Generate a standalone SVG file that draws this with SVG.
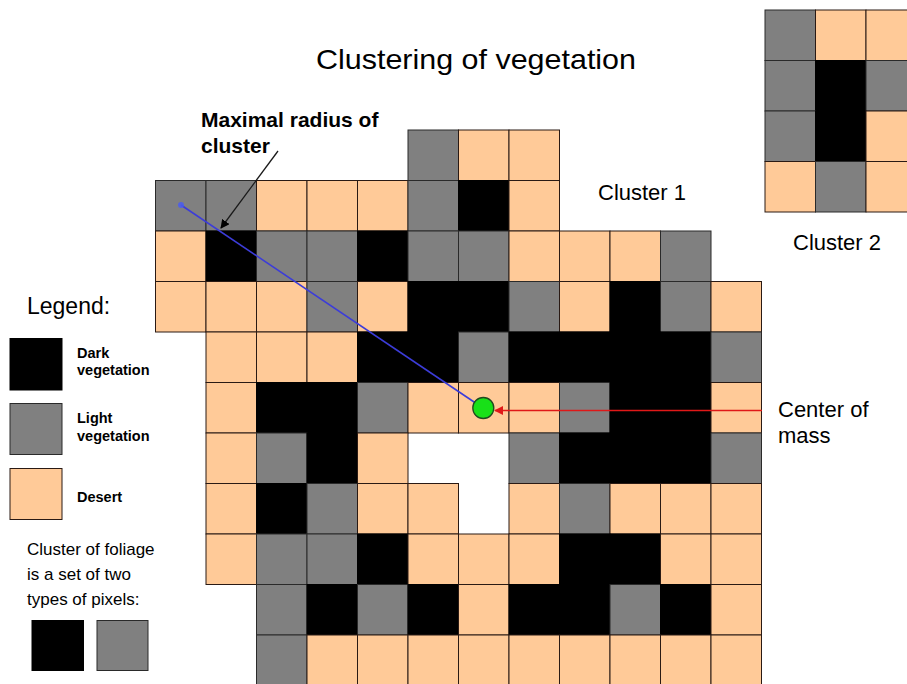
<svg xmlns="http://www.w3.org/2000/svg" width="907" height="684" viewBox="0 0 907 684">
  <style>
    .d { fill: #FFCA98; stroke: #2a1a14; stroke-width: 1; }
    .g { fill: #808080; stroke: #2a2a2a; stroke-width: 1; }
    .k { fill: #000000; stroke: #000000; stroke-width: 1; }
    .t { font-family: "Liberation Sans", Arial, sans-serif; fill: #000; }
    .b { font-family: "Liberation Sans", Arial, sans-serif; font-weight: bold; fill: #000; }
  </style>
  <defs>
    <marker id="arrBlack" viewBox="0 0 10 10" refX="9" refY="5" markerWidth="9" markerHeight="9" markerUnits="userSpaceOnUse" orient="auto">
      <path d="M0,0 L10,5 L0,10 z" fill="#000"/>
    </marker>
    <marker id="arrRed" viewBox="0 0 10 10" refX="9" refY="5" markerWidth="9" markerHeight="9" markerUnits="userSpaceOnUse" orient="auto">
      <path d="M0,0 L10,5 L0,10 z" fill="#e01818"/>
    </marker>
  </defs>

  <rect width="907" height="684" fill="#ffffff"/>

  <text class="t" x="476" y="69" font-size="28" text-anchor="middle" textLength="320" lengthAdjust="spacingAndGlyphs">Clustering of vegetation</text>

  <!-- Cluster 1: pixel grid, 50.5px cells -->
  <g id="cluster1">
    <!-- row 0 -->
    <rect class="g" x="408" y="130" width="50.5" height="50.5"/>
    <rect class="d" x="458.5" y="130" width="50.5" height="50.5"/>
    <rect class="d" x="509" y="130" width="50.5" height="50.5"/>
    <!-- row 1 -->
    <rect class="g" x="155.5" y="180.5" width="50.5" height="50.5"/>
    <rect class="g" x="206" y="180.5" width="50.5" height="50.5"/>
    <rect class="d" x="256.5" y="180.5" width="50.5" height="50.5"/>
    <rect class="d" x="307" y="180.5" width="50.5" height="50.5"/>
    <rect class="d" x="357.5" y="180.5" width="50.5" height="50.5"/>
    <rect class="g" x="408" y="180.5" width="50.5" height="50.5"/>
    <rect class="k" x="458.5" y="180.5" width="50.5" height="50.5"/>
    <rect class="d" x="509" y="180.5" width="50.5" height="50.5"/>
    <!-- row 2 -->
    <rect class="d" x="155.5" y="231" width="50.5" height="50.5"/>
    <rect class="k" x="206" y="231" width="50.5" height="50.5"/>
    <rect class="g" x="256.5" y="231" width="50.5" height="50.5"/>
    <rect class="g" x="307" y="231" width="50.5" height="50.5"/>
    <rect class="k" x="357.5" y="231" width="50.5" height="50.5"/>
    <rect class="g" x="408" y="231" width="50.5" height="50.5"/>
    <rect class="g" x="458.5" y="231" width="50.5" height="50.5"/>
    <rect class="d" x="509" y="231" width="50.5" height="50.5"/>
    <rect class="d" x="559.5" y="231" width="50.5" height="50.5"/>
    <rect class="d" x="610" y="231" width="50.5" height="50.5"/>
    <rect class="g" x="660.5" y="231" width="50.5" height="50.5"/>
    <!-- row 3 -->
    <rect class="d" x="155.5" y="281.5" width="50.5" height="50.5"/>
    <rect class="d" x="206" y="281.5" width="50.5" height="50.5"/>
    <rect class="d" x="256.5" y="281.5" width="50.5" height="50.5"/>
    <rect class="g" x="307" y="281.5" width="50.5" height="50.5"/>
    <rect class="d" x="357.5" y="281.5" width="50.5" height="50.5"/>
    <rect class="k" x="408" y="281.5" width="50.5" height="50.5"/>
    <rect class="k" x="458.5" y="281.5" width="50.5" height="50.5"/>
    <rect class="g" x="509" y="281.5" width="50.5" height="50.5"/>
    <rect class="d" x="559.5" y="281.5" width="50.5" height="50.5"/>
    <rect class="k" x="610" y="281.5" width="50.5" height="50.5"/>
    <rect class="g" x="660.5" y="281.5" width="50.5" height="50.5"/>
    <rect class="d" x="711" y="281.5" width="50.5" height="50.5"/>
    <!-- row 4 -->
    <rect class="d" x="206" y="332" width="50.5" height="50.5"/>
    <rect class="d" x="256.5" y="332" width="50.5" height="50.5"/>
    <rect class="d" x="307" y="332" width="50.5" height="50.5"/>
    <rect class="k" x="357.5" y="332" width="50.5" height="50.5"/>
    <rect class="k" x="408" y="332" width="50.5" height="50.5"/>
    <rect class="g" x="458.5" y="332" width="50.5" height="50.5"/>
    <rect class="k" x="509" y="332" width="50.5" height="50.5"/>
    <rect class="k" x="559.5" y="332" width="50.5" height="50.5"/>
    <rect class="k" x="610" y="332" width="50.5" height="50.5"/>
    <rect class="k" x="660.5" y="332" width="50.5" height="50.5"/>
    <rect class="g" x="711" y="332" width="50.5" height="50.5"/>
    <!-- row 5 -->
    <rect class="d" x="206" y="382.5" width="50.5" height="50.5"/>
    <rect class="k" x="256.5" y="382.5" width="50.5" height="50.5"/>
    <rect class="k" x="307" y="382.5" width="50.5" height="50.5"/>
    <rect class="g" x="357.5" y="382.5" width="50.5" height="50.5"/>
    <rect class="d" x="408" y="382.5" width="50.5" height="50.5"/>
    <rect class="d" x="458.5" y="382.5" width="50.5" height="50.5"/>
    <rect class="d" x="509" y="382.5" width="50.5" height="50.5"/>
    <rect class="g" x="559.5" y="382.5" width="50.5" height="50.5"/>
    <rect class="k" x="610" y="382.5" width="50.5" height="50.5"/>
    <rect class="k" x="660.5" y="382.5" width="50.5" height="50.5"/>
    <rect class="d" x="711" y="382.5" width="50.5" height="50.5"/>
    <!-- row 6 -->
    <rect class="d" x="206" y="433" width="50.5" height="50.5"/>
    <rect class="g" x="256.5" y="433" width="50.5" height="50.5"/>
    <rect class="k" x="307" y="433" width="50.5" height="50.5"/>
    <rect class="d" x="357.5" y="433" width="50.5" height="50.5"/>
    <rect class="g" x="509" y="433" width="50.5" height="50.5"/>
    <rect class="k" x="559.5" y="433" width="50.5" height="50.5"/>
    <rect class="k" x="610" y="433" width="50.5" height="50.5"/>
    <rect class="k" x="660.5" y="433" width="50.5" height="50.5"/>
    <rect class="g" x="711" y="433" width="50.5" height="50.5"/>
    <!-- row 7 -->
    <rect class="d" x="206" y="483.5" width="50.5" height="50.5"/>
    <rect class="k" x="256.5" y="483.5" width="50.5" height="50.5"/>
    <rect class="g" x="307" y="483.5" width="50.5" height="50.5"/>
    <rect class="d" x="357.5" y="483.5" width="50.5" height="50.5"/>
    <rect class="d" x="408" y="483.5" width="50.5" height="50.5"/>
    <rect class="d" x="509" y="483.5" width="50.5" height="50.5"/>
    <rect class="g" x="559.5" y="483.5" width="50.5" height="50.5"/>
    <rect class="d" x="610" y="483.5" width="50.5" height="50.5"/>
    <rect class="d" x="660.5" y="483.5" width="50.5" height="50.5"/>
    <rect class="d" x="711" y="483.5" width="50.5" height="50.5"/>
    <!-- row 8 -->
    <rect class="d" x="206" y="534" width="50.5" height="50.5"/>
    <rect class="g" x="256.5" y="534" width="50.5" height="50.5"/>
    <rect class="g" x="307" y="534" width="50.5" height="50.5"/>
    <rect class="k" x="357.5" y="534" width="50.5" height="50.5"/>
    <rect class="d" x="408" y="534" width="50.5" height="50.5"/>
    <rect class="d" x="458.5" y="534" width="50.5" height="50.5"/>
    <rect class="d" x="509" y="534" width="50.5" height="50.5"/>
    <rect class="k" x="559.5" y="534" width="50.5" height="50.5"/>
    <rect class="k" x="610" y="534" width="50.5" height="50.5"/>
    <rect class="d" x="660.5" y="534" width="50.5" height="50.5"/>
    <rect class="d" x="711" y="534" width="50.5" height="50.5"/>
    <!-- row 9 -->
    <rect class="g" x="256.5" y="584.5" width="50.5" height="50.5"/>
    <rect class="k" x="307" y="584.5" width="50.5" height="50.5"/>
    <rect class="g" x="357.5" y="584.5" width="50.5" height="50.5"/>
    <rect class="k" x="408" y="584.5" width="50.5" height="50.5"/>
    <rect class="d" x="458.5" y="584.5" width="50.5" height="50.5"/>
    <rect class="k" x="509" y="584.5" width="50.5" height="50.5"/>
    <rect class="k" x="559.5" y="584.5" width="50.5" height="50.5"/>
    <rect class="g" x="610" y="584.5" width="50.5" height="50.5"/>
    <rect class="k" x="660.5" y="584.5" width="50.5" height="50.5"/>
    <rect class="d" x="711" y="584.5" width="50.5" height="50.5"/>
    <!-- row 10 -->
    <rect class="g" x="256.5" y="635" width="50.5" height="50.5"/>
    <rect class="d" x="307" y="635" width="50.5" height="50.5"/>
    <rect class="d" x="357.5" y="635" width="50.5" height="50.5"/>
    <rect class="d" x="408" y="635" width="50.5" height="50.5"/>
    <rect class="d" x="458.5" y="635" width="50.5" height="50.5"/>
    <rect class="d" x="509" y="635" width="50.5" height="50.5"/>
    <rect class="d" x="559.5" y="635" width="50.5" height="50.5"/>
    <rect class="d" x="610" y="635" width="50.5" height="50.5"/>
    <rect class="d" x="660.5" y="635" width="50.5" height="50.5"/>
    <rect class="d" x="711" y="635" width="50.5" height="50.5"/>
  </g>
  <text id="label-cluster1" class="t" x="598" y="200" font-size="22">Cluster 1</text>

  <!-- Cluster 2 -->
  <g id="cluster2">
    <rect class="g" x="765" y="10" width="50.5" height="50.5"/>
    <rect class="d" x="815.5" y="10" width="50.5" height="50.5"/>
    <rect class="d" x="866" y="10" width="50.5" height="50.5"/>
    <rect class="g" x="765" y="60.5" width="50.5" height="50.5"/>
    <rect class="k" x="815.5" y="60.5" width="50.5" height="50.5"/>
    <rect class="g" x="866" y="60.5" width="50.5" height="50.5"/>
    <rect class="g" x="765" y="111" width="50.5" height="50.5"/>
    <rect class="k" x="815.5" y="111" width="50.5" height="50.5"/>
    <rect class="d" x="866" y="111" width="50.5" height="50.5"/>
    <rect class="d" x="765" y="161.5" width="50.5" height="50.5"/>
    <rect class="g" x="815.5" y="161.5" width="50.5" height="50.5"/>
    <rect class="d" x="866" y="161.5" width="50.5" height="50.5"/>
  </g>
  <text id="label-cluster2" class="t" x="793" y="250" font-size="22">Cluster 2</text>

  <!-- connectors -->
  <g id="connectors">
    <line x1="483" y1="408" x2="181" y2="205" stroke="#3c3cd8" stroke-width="1.6"/>
    <circle cx="181" cy="205" r="3" fill="#4a5cf0" opacity="0.85"/>
    <line x1="278" y1="151" x2="221" y2="228" stroke="#1a1a1a" stroke-width="1.3" marker-end="url(#arrBlack)"/>
    <line x1="762" y1="410.5" x2="495" y2="410.5" stroke="#e01818" stroke-width="1.6" marker-end="url(#arrRed)"/>
  </g>

  <!-- centre of mass point -->
  <g id="center-of-mass">
    <circle cx="483.3" cy="408" r="10.5" fill="#18e018" stroke="#1f4a1f" stroke-width="1.3"/>
  </g>

  <g id="label-radius">
    <text class="b" x="201" y="127" font-size="21">Maximal radius of</text>
    <text class="b" x="201" y="153" font-size="21">cluster</text>
  </g>

  <g id="label-center">
    <text class="t" x="778" y="417" font-size="22">Center of</text>
    <text class="t" x="778" y="443" font-size="22">mass</text>
  </g>

  <!-- legend -->
  <g id="legend">
    <text class="t" x="27" y="314" font-size="23">Legend:</text>
    <rect class="k" x="10" y="338.5" width="52" height="51.5"/>
    <text class="b" x="77" y="358" font-size="14.5">Dark</text>
    <text class="b" x="77" y="375" font-size="14.5">vegetation</text>
    <rect class="g" x="10" y="403.5" width="52" height="51"/>
    <text class="b" x="77" y="423" font-size="14.5">Light</text>
    <text class="b" x="77" y="441" font-size="14.5">vegetation</text>
    <rect class="d" x="10" y="468.5" width="52" height="51"/>
    <text class="b" x="77" y="502" font-size="14.5">Desert</text>
  </g>

  <g id="foliage-note">
    <text class="t" x="27" y="555" font-size="17">Cluster of foliage</text>
    <text class="t" x="27" y="580" font-size="17">is a set of two</text>
    <text class="t" x="27" y="605" font-size="17">types of pixels:</text>
    <rect class="k" x="32" y="620.5" width="51.5" height="50"/>
    <rect class="g" x="97" y="620.5" width="51" height="50"/>
  </g>
</svg>
